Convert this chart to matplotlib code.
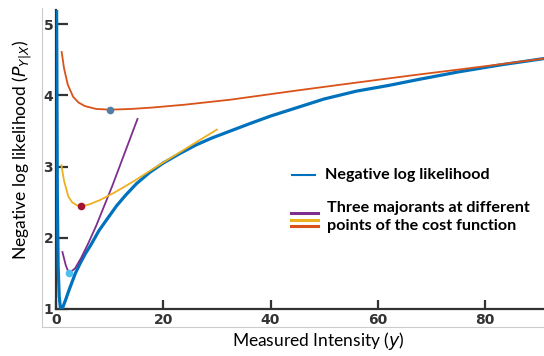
import numpy as np
import matplotlib
matplotlib.use('Agg')
import matplotlib.pyplot as plt
from matplotlib.lines import Line2D

# negative log likelihood
nll_x = [0.1, 0.15, 0.25, 0.4, 0.6, 0.8, 1.0, 1.3, 1.8, 2.4, 3.0, 3.6, 4.5, 5.5,
         6.5, 8.0, 9.5, 11.3, 13.0, 15.0, 17.5, 20.0, 23.0, 26.0, 29.0, 32.5,
         36.0, 40.0, 45.0, 50.0, 56.0, 62.0, 68.0, 75.0, 83.0, 91.2]
nll_y = [5.4, 4.6, 2.6, 1.6, 1.17, 1.03, 1.0, 1.03, 1.13, 1.26, 1.38, 1.5, 1.64, 1.78,
         1.9, 2.1, 2.26, 2.45, 2.6, 2.76, 2.92, 3.05, 3.18, 3.3, 3.4, 3.5,
         3.6, 3.71, 3.83, 3.95, 4.06, 4.14, 4.23, 4.33, 4.43, 4.52]

# three majorants
maj1_x = [1.2, 1.8, 2.3, 2.9, 3.55, 4.7, 6.0, 7.5, 9.0, 10.5, 12.0, 13.6, 15.2]
maj1_y = [1.80, 1.62, 1.52, 1.53, 1.57, 1.72, 1.92, 2.17, 2.45, 2.73, 3.03, 3.35, 3.67]
maj2_x = [1.0, 1.5, 2.3, 3.0, 3.8, 4.6, 6.2, 8.2, 11.0, 14.4, 17.5, 20.7, 25.0, 30.0]
maj2_y = [3.02, 2.80, 2.58, 2.50, 2.46, 2.44, 2.47, 2.53, 2.64, 2.79, 2.94, 3.09, 3.29, 3.52]
maj3_x = [1.06, 1.5, 2.2, 3.2, 4.2, 5.4, 7.5, 10.1, 14.0, 18.0, 24.0, 32.5, 45.0,
          55.0, 66.2, 80.0, 91.2]
maj3_y = [4.61, 4.38, 4.15, 3.98, 3.90, 3.85, 3.81, 3.80, 3.81, 3.83, 3.87, 3.94, 4.07,
          4.17, 4.28, 4.41, 4.52]

# touching points
pts_x = [2.4, 4.6, 10.1]
pts_y = [1.50, 2.44, 3.80]

c_blue = '#0072BD'
c_purple = '#7E2F8E'
c_yellow = '#EDB120'
c_orange = '#D95319'
dot_colors = ['#4DBEEE', '#A2142F', '#4F7FA6']

fig = plt.figure(figsize=(5.44, 3.56), dpi=100)
ax = fig.add_axes([56/544, 47/356, 488/544, 299/356])

ax.plot(nll_x, nll_y, color=c_blue, lw=2.3, zorder=3)
ax.plot(maj1_x, maj1_y, color=c_purple, lw=1.3, zorder=4)
ax.plot(maj2_x, maj2_y, color=c_yellow, lw=1.3, zorder=4)
ax.plot(maj3_x, maj3_y, color=c_orange, lw=1.3, zorder=4)
for x, y, c in zip(pts_x, pts_y, dot_colors):
    ax.plot(x, y, 'o', color=c, ms=4.5, zorder=5)

ax.set_xlim(0, 91)
ax.set_ylim(1, 5.2)
ax.set_xticks([0, 20, 40, 60, 80])
ax.set_yticks([1, 2, 3, 4, 5])
for s in ['top', 'right']:
    ax.spines[s].set_visible(False)
for s in ['left', 'bottom']:
    ax.spines[s].set_color('#333333')
    ax.spines[s].set_linewidth(1.6)
ax.tick_params(axis='x', direction='in', length=6.5, width=1.6, color='#333333',
               pad=3, labelsize=10, labelcolor='#333333')
ax.tick_params(axis='y', direction='in', length=8.5, width=1.6, color='#333333',
               pad=2, labelsize=10, labelcolor='#333333')
for lab in ax.get_xticklabels() + ax.get_yticklabels():
    lab.set_fontweight('bold')

fig.text(318/544, 1 - 341/356, 'Measured Intensity ($y$)', ha='center', va='center',
         fontsize=12.5, family='Lato')
fig.text(22/544, 1 - 150/356, 'Negative log likelihood ($P_{Y|X}$)', ha='center',
         va='center', rotation=90, fontsize=12.5, family='Lato')

# frame of the pasted picture
fig.add_artist(Line2D([42/544, 42/544], [1 - 327/356, 1 - 8/356], color='#cccccc', lw=0.8))
fig.add_artist(Line2D([42/544, 1], [1 - 327/356, 1 - 327/356], color='#cccccc', lw=0.8))

# legend drawn by hand
fig.add_artist(Line2D([292/544, 315/544], [1 - 175/356] * 2, color=c_blue, lw=1.5))
fig.text(325/544, 1 - 175/356, 'Negative log likelihood', ha='left', va='center',
         fontsize=11.6, fontweight='bold', family='Lato')
for yy, c in zip([213, 219.5, 226], [c_purple, c_yellow, c_orange]):
    fig.add_artist(Line2D([291/544, 318/544], [1 - yy/356] * 2, color=c, lw=2.2))
fig.text(327/544, 1 - 217/356, 'Three majorants at different\npoints of the cost function',
         ha='left', va='center', fontsize=11.6, fontweight='bold', family='Lato',
         linespacing=1.4)

fig.savefig('out.png', dpi=100)
